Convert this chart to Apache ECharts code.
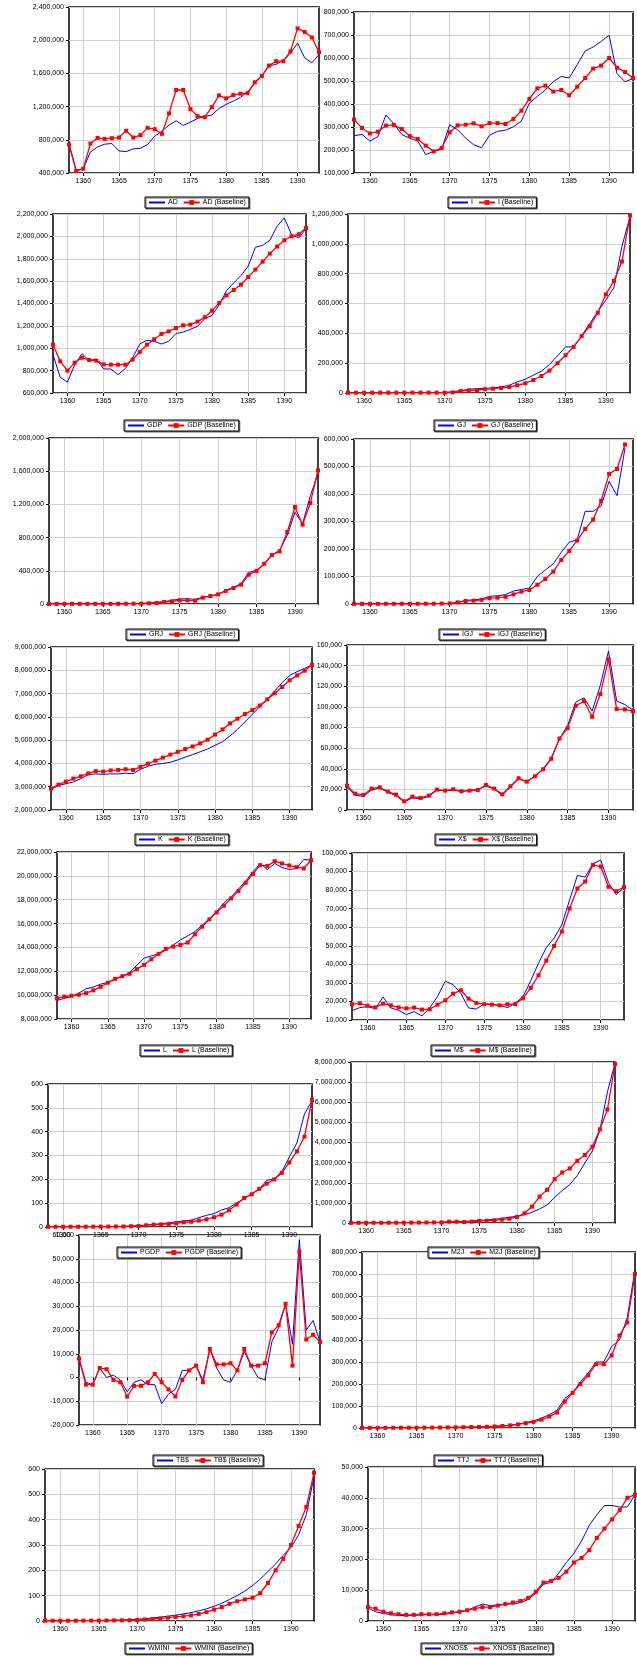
<!DOCTYPE html>
<html><head><meta charset="utf-8">
<script src="https://cdn.jsdelivr.net/npm/echarts@6/dist/echarts.min.js"></script>
<style>html,body{margin:0;padding:0;background:#fff}#c{width:637px;height:1658px}</style>
</head><body><div id="c"></div><script>
// ---------- DATA ----------
const years = ['1358','1359','1360','1361','1362','1363','1364','1365','1366','1367','1368','1369','1370','1371','1372','1373','1374','1375','1376','1377','1378','1379','1380','1381','1382','1383','1384','1385','1386','1387','1388','1389','1390','1391','1392','1393'];

const AD      = [755000,432000,452000,654000,715000,747000,755000,666000,658000,690000,698000,743000,843000,904000,977000,1029000,973000,1013000,1057000,1081000,1098000,1178000,1227000,1267000,1311000,1376000,1480000,1569000,1690000,1710000,1755000,1844000,1964000,1787000,1727000,1827000];
const AD_B    = [743000,424000,452000,755000,823000,811000,819000,827000,908000,827000,856000,944000,928000,872000,1118000,1400000,1400000,1170000,1085000,1073000,1194000,1335000,1299000,1339000,1355000,1363000,1493000,1569000,1694000,1747000,1747000,1864000,2142000,2098000,2033000,1856000];

const I_      = [262000,268000,238000,259000,352000,314000,267000,251000,239000,180000,194000,203000,310000,288000,252000,223000,210000,264000,281000,286000,301000,326000,404000,433000,461000,497000,520000,513000,571000,630000,648000,672000,699000,532000,497000,510000];
const I_B     = [332000,296000,272000,280000,306000,309000,291000,261000,248000,219000,194000,209000,277000,307000,310000,316000,303000,317000,317000,313000,335000,371000,422000,468000,480000,454000,461000,438000,475000,513000,554000,567000,600000,558000,539000,513000];

const GDP     = [943000,740000,698000,853000,952000,889000,904000,815000,815000,764000,818000,913000,1038000,1071000,1062000,1038000,1062000,1131000,1145000,1169000,1196000,1265000,1294000,1390000,1515000,1584000,1649000,1733000,1902000,1920000,1965000,2090000,2165000,2016000,1986000,2069000];
const GDP_B   = [1032000,883000,800000,871000,916000,895000,889000,856000,853000,853000,853000,898000,967000,1032000,1080000,1128000,1151000,1181000,1205000,1211000,1238000,1277000,1336000,1405000,1473000,1521000,1569000,1637000,1703000,1774000,1846000,1909000,1965000,2001000,2019000,2075000];

const GJ      = [1000,1000,1200,1200,1300,1400,1500,1600,1800,2000,2200,2600,4000,9000,16000,25000,29000,31000,34000,40000,52000,74000,92000,119000,146000,191000,249000,309000,309000,383000,466000,545000,623000,706000,982000,1184000];
const GJ_B    = [1500,1500,1600,1700,1800,1800,1900,2000,2000,2100,2200,2300,2000,4000,13000,18000,20000,25000,29000,34000,40000,52000,65000,87000,114000,150000,200000,253000,309000,381000,448000,538000,661000,751000,881000,1191000];

const GRJ     = [1000,1000,1200,1300,1400,1500,1600,1800,2000,2500,3000,5000,8000,12000,20000,28000,44000,60000,64000,56000,80000,100000,116000,165000,201000,245000,382000,406000,478000,590000,647000,827000,1104000,968000,1305000,1570000];
const GRJ_B   = [1000,1000,1200,1300,1400,1500,1600,1800,2000,2500,3000,4000,4000,8000,12000,24000,32000,44000,44000,40000,76000,96000,116000,157000,193000,233000,353000,398000,486000,590000,635000,867000,1169000,956000,1217000,1610000];

const IGJ     = [300,300,400,400,500,500,600,600,700,800,900,1200,2000,6000,13000,15000,18000,28000,30000,34000,47000,53000,58000,100000,124000,146000,188000,225000,233000,337000,337000,357000,446000,394000,567000,null];
const IGJ_B   = [500,500,600,600,700,700,800,800,900,1000,1100,1400,2000,6000,11000,12000,15000,21000,23000,26000,35000,45000,51000,70000,91000,118000,160000,193000,231000,273000,307000,375000,473000,491000,580000,null];

const K       = [2900000,3050000,3130000,3200000,3350000,3520000,3550000,3530000,3550000,3550000,3580000,3560000,3750000,3880000,3960000,4000000,4050000,4150000,4270000,4380000,4500000,4620000,4780000,4930000,5180000,5460000,5780000,6110000,6440000,6750000,7110000,7470000,7780000,7940000,8080000,8230000];
const K_B     = [2920000,3090000,3220000,3350000,3450000,3570000,3670000,3650000,3700000,3720000,3750000,3720000,3850000,3990000,4120000,4250000,4380000,4500000,4620000,4730000,4860000,5020000,5240000,5460000,5720000,5920000,6120000,6290000,6490000,6750000,7010000,7280000,7570000,7780000,7980000,8230000];

const XD      = [22000,14300,13300,19400,21400,17200,13900,7800,11700,10700,13300,19100,18800,19100,18100,19100,19800,23300,20400,14300,22300,30100,27200,32700,39800,50500,69000,81900,104600,108800,95900,120800,154200,105600,102300,96800];
const XD_B    = [23600,15900,14600,20700,22000,17800,14900,8400,13000,11700,13900,19800,18800,20100,18100,18800,19400,24300,20700,15200,23000,30800,27500,32700,39500,49600,69300,79400,101100,105600,90400,112400,146100,97800,97500,95900];

const L       = [9560000,9730000,9890000,10170000,10530000,10670000,10920000,11060000,11340000,11570000,11900000,12510000,13100000,13290000,13460000,13770000,14180000,14630000,14960000,15330000,15860000,16410000,17000000,17750000,18250000,18890000,19560000,20340000,21040000,20530000,21040000,20700000,20530000,20620000,21370000,21310000];
const L_B     = [9730000,9870000,9950000,10030000,10170000,10400000,10700000,11040000,11370000,11590000,11790000,12180000,12540000,13010000,13460000,13880000,14070000,14210000,14410000,15100000,15740000,16360000,16940000,17500000,18110000,18720000,19420000,20170000,20900000,20840000,21230000,21040000,20870000,20730000,20620000,21310000];

const MD      = [15000,16700,17200,16100,22400,16500,15200,12900,14500,12200,16500,22600,30900,29100,24400,16500,15900,18800,18500,17900,16700,19000,22600,31200,40600,49000,54100,61300,74700,87900,87000,94200,96200,84100,77600,81400];
const MD_B    = [18500,19000,17700,16800,18800,17900,16800,16300,16700,15600,15800,18300,20600,24200,26000,21500,19200,18500,18300,17900,18500,18600,21700,27300,34100,42000,49900,57700,70100,80900,84600,93600,92700,81800,79400,81600];

const PGDP    = [1,1,1,1,1.2,1.3,1.5,1.7,2,2.3,3,4,5.6,8,11,14,17,22,25,29,39,49,56,71,81,101,118,140,158,196,202,233,294,353,474,529];
const PGDP_B  = [1,1,1,1,1.1,1.2,1.3,1.5,1.7,1.9,2,3,4,7,10,11,13,15,20,22,27,32,41,52,70,94,122,137,160,182,200,227,271,317,379,533];

const M2J     = [5000,6000,7000,8000,9000,10000,12000,14000,16000,19000,22000,27000,33000,50000,67000,83000,100000,133000,150000,183000,233000,283000,333000,416000,532000,699000,898000,1280000,1610000,1910000,2360000,2980000,3580000,4610000,6520000,7940000];
const M2J_B   = [6000,7000,8000,9000,10000,12000,14000,16000,18000,21000,24000,28000,33000,67000,67000,50000,67000,100000,116000,133000,166000,216000,300000,483000,815000,1310000,1650000,2180000,2510000,2710000,3090000,3380000,3790000,4660000,5640000,7900000];

const TB      = [8000,-2000,-3000,4000,0,1000,-1000,-6000,-2000,-1000,-3000,-3000,-11000,-7000,-5000,3000,3000,5000,-1000,12000,4000,-1000,-2000,3000,11000,5000,0,-1000,15000,21000,31000,14000,58000,20000,24000,15000];
const TB_B    = [8000,-3000,-3000,4000,3500,-1000,-2000,-8000,-3500,-3500,-2000,1500,-2000,-5000,-8000,-1000,3000,5000,-2000,12000,5500,5500,6000,3000,12000,5000,5000,6000,19000,22000,31000,5000,53000,16000,18000,15000];

const TTJ     = [500,600,700,800,900,1000,1200,1400,1600,1900,2200,2600,3000,3500,4000,4500,6000,8000,10000,13000,18000,25000,32000,45000,60000,80000,135000,160000,210000,250000,300000,300000,370000,400000,500000,720000];
const TTJ_B   = [500,600,700,800,900,1000,1200,1400,1600,1900,2200,2600,3000,3500,4000,4500,5500,7000,9000,12000,16000,22000,28000,38000,52000,70000,120000,160000,200000,240000,290000,290000,330000,420000,480000,700000];

const WMINI   = [1,1,1,1.2,1.4,1.6,1.8,2,2.5,3,4,5,7,9,12,15,19,23,28,33,40,48,58,70,85,100,118,140,165,195,225,260,290,340,420,570];
const WMINI_B = [1,1,1,1.1,1.2,1.4,1.6,1.8,2,2.3,2.6,3,4,6,8,10,13,16,19,22,28,35,45,55,68,78,85,92,110,150,200,245,300,375,450,585];

const XNOS    = [4200,3000,2500,2000,1800,1700,1800,2000,2000,2000,2200,2500,3000,3500,4500,5500,5000,5200,5500,5500,6000,7000,9000,12000,12500,15500,19000,22000,26000,31000,34500,37500,37500,37000,37000,41000];
const XNOS_B  = [4500,4000,3000,2500,2200,2000,2000,2200,2200,2200,2500,2800,3000,3500,4000,4500,4500,5000,5500,6000,6500,7500,9500,12500,13000,14000,16000,19000,20500,23000,27000,30000,33000,36000,40000,41000];

// panel names and y-scales
const names  = ['AD','I','GDP','GJ','GRJ','IGJ','K','X$','L','M$','PGDP','M2J','TB$','TTJ','WMINI','XNOS$'];
const blue   = [AD,I_,GDP,GJ,GRJ,IGJ,K,XD,L,MD,PGDP,M2J,TB,TTJ,WMINI,XNOS];
const red    = [AD_B,I_B,GDP_B,GJ_B,GRJ_B,IGJ_B,K_B,XD_B,L_B,MD_B,PGDP_B,M2J_B,TB_B,TTJ_B,WMINI_B,XNOS_B];
const yMin   = [400000,100000,600000,0,0,0,2000000,0,8000000,10000,0,0,-20000,0,0,0];
const yMax   = [2400000,800000,2200000,1200000,2000000,600000,9000000,160000,22000000,100000,600,8000000,60000,800000,600,50000];
const yStep  = [400000,100000,200000,200000,400000,100000,1000000,20000,2000000,10000,100,1000000,10000,100000,100,10000];

// ---------- LAYOUT (pixels) ----------
const frames = [
  [69,7,319,173],[354,12,633,173],
  [53,214,306,393],[348,214,630,393],
  [49,438,318,604],[354,439,633,604],
  [51,647,312,810],[347,645,633,810],
  [57,852,311,1019],[352,853,624,1020],
  [48,1084,312,1227],[351,1062,615,1223],
  [79,1235,320,1425],[362,1252,635,1428],
  [45,1469,314,1621],[368,1467,635,1621]
];
const legPos = [
  [145,197],[448,197],
  [124,420],[434,420],
  [126,629],[439,629],
  [135,834],[435,834],
  [140,1045],[431,1045],
  [117,1247],[428,1247],
  [153,1455],[434,1455],
  [125,1643],[421,1643]
];

const FONT = 'Liberation Sans, Arial, sans-serif';
const fmt = v => Number(v).toLocaleString('en-US');
const every5 = (i, v) => (+v) % 5 === 0;

const grid = [], xAxis = [], yAxis = [], series = [], legend = [];
names.forEach((n, k) => {
  const f = frames[k];
  grid.push({left: f[0], top: f[1], width: f[2]-f[0], height: f[3]-f[1], show: true,
    borderColor: '#000', borderWidth: 1.5, backgroundColor: '#fff'});
  xAxis.push({type: 'category', gridIndex: k, data: years, boundaryGap: false,
    axisLine: {show: false},
    axisTick: {show: true, interval: every5, length: 3, lineStyle: {color: '#000'}},
    axisLabel: {interval: every5, fontSize: 7, fontFamily: FONT, color: '#000', margin: 5},
    splitLine: {show: true, interval: every5, lineStyle: {color: '#d0d0d0', width: 1}}});
  yAxis.push({type: 'value', gridIndex: k, min: yMin[k], max: yMax[k], interval: yStep[k],
    axisLine: {show: false},
    axisTick: {show: true, length: 3, lineStyle: {color: '#000'}},
    axisLabel: {fontSize: 7, fontFamily: FONT, color: '#000', margin: 5, formatter: fmt},
    splitLine: {show: true, lineStyle: {color: '#d0d0d0', width: 1}}});
  series.push({name: n, type: 'line', xAxisIndex: k, yAxisIndex: k, data: blue[k],
    symbol: 'none', lineStyle: {color: '#0000ff', width: 1}, itemStyle: {color: '#0000ff'},
    animation: false, connectNulls: false});
  series.push({name: n + ' (Baseline)', type: 'line', xAxisIndex: k, yAxisIndex: k, data: red[k],
    symbol: 'rect', symbolSize: 4, showSymbol: true,
    lineStyle: {color: '#ff0000', width: 1.3}, itemStyle: {color: '#ff0000'},
    animation: false});
  legend.push({left: legPos[k][0], top: legPos[k][1], orient: 'horizontal',
    data: [{name: n, itemStyle: {opacity: 0}}, {name: n + ' (Baseline)'}],
    itemWidth: 16, itemHeight: 6, itemGap: 5,
    padding: [2, 3], borderColor: '#000', borderWidth: 1, backgroundColor: '#fff',
    shadowColor: '#666', shadowOffsetX: 1, shadowOffsetY: 1, shadowBlur: 0,
    textStyle: {fontSize: 7, fontFamily: FONT, color: '#000', padding: [0, 0, 0, -2]},
    selectedMode: false});
});

const chart = echarts.init(document.getElementById('c'), null, {renderer: 'canvas'});
chart.setOption({animation: false, backgroundColor: '#fff', grid, xAxis, yAxis, series, legend});
</script></body></html>
